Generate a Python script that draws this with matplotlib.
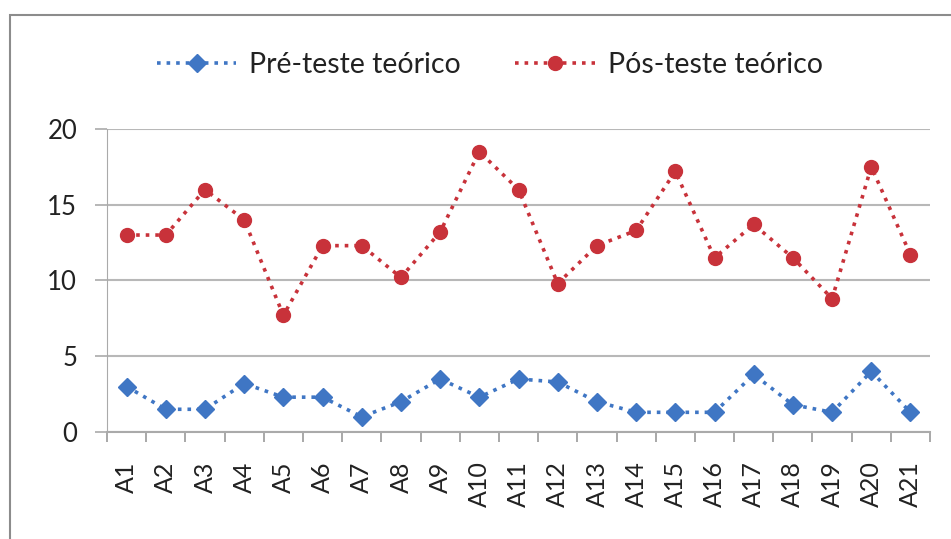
import numpy as np
import matplotlib
matplotlib.use('Agg')
import matplotlib.pyplot as plt
from matplotlib.patches import Rectangle

# dados
alunos = ['A%d' % i for i in range(1, 22)]
pre_teste = [3, 1.5, 1.5, 3.2, 2.3, 2.3, 1, 2, 3.5, 2.3, 3.5,
             3.3, 2, 1.3, 1.3, 1.3, 3.8, 1.8, 1.3, 4, 1.3]
pos_teste = [13, 13, 16, 14, 7.7, 12.3, 12.3, 10.2, 13.2, 18.5, 16,
             9.8, 12.3, 13.3, 17.2, 11.5, 13.7, 11.5, 8.8, 17.5, 11.7]
yticks = [0, 5, 10, 15, 20]

plt.rcParams['font.family'] = ['Lato', 'DejaVu Sans']

fig = plt.figure(figsize=(9.51, 5.39), dpi=100)
ax = fig.add_axes([0.1125, 0.1985, 0.8655, 0.5622])

# moldura externa
fig.patches.append(Rectangle((10 / 951, -0.01), 1.0, 1.01 - 15 / 539,
                             transform=fig.transFigure, fill=False,
                             edgecolor='#8c8c8c', linewidth=1.5))

x = np.arange(len(alunos))
azul = '#3F76C4'
vermelho = '#C8323A'
ax.plot(x, pre_teste, linestyle=':', color=azul, linewidth=2.6,
        marker='D', markersize=9, label='Pré-teste teórico')
ax.plot(x, pos_teste, linestyle=':', color=vermelho, linewidth=2.6,
        marker='o', markersize=10, label='Pós-teste teórico')

ax.set_xlim(-0.5, len(alunos) - 0.5)
ax.set_ylim(0, 20)
ax.set_yticks(yticks)
ax.tick_params(axis='y', labelsize=18.5, length=8.5, color='#aaaaaa',
               width=1.2, pad=13, labelcolor='#222222')
ax.set_xticks(x)
ax.set_xticklabels(alunos, rotation=90, fontsize=18, color='#222222')
ax.tick_params(axis='x', length=0, pad=21)
ax.set_xticks(np.arange(-0.5, len(alunos), 1), minor=True)
ax.tick_params(axis='x', which='minor', length=7, color='#999999', width=1.2)

ax.grid(axis='y', color='#b8b8b8', linewidth=1.5)
ax.set_axisbelow(True)
for s in ['top', 'right']:
    ax.spines[s].set_visible(False)
ax.spines['left'].set_color('#aaaaaa')
ax.spines['bottom'].set_color('#aaaaaa')
ax.spines['bottom'].set_linewidth(1.5)

ax.legend(loc='center', bbox_to_anchor=(0.465, 1.211), ncol=2, frameon=False,
          fontsize=20.5, handlelength=2.8, columnspacing=1.9,
          handletextpad=0.45, labelcolor='#222222')

fig.savefig('out.png', dpi=100)
